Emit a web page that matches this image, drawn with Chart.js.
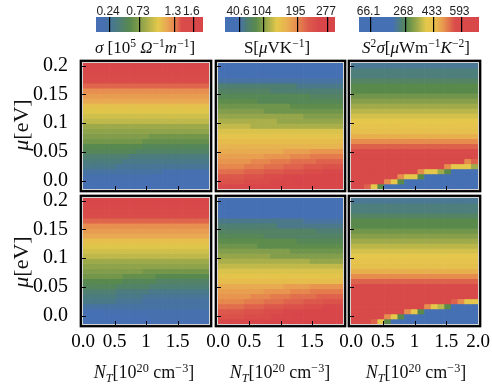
<!DOCTYPE html>
<html lang="en">
<head>
<meta charset="UTF-8">
<title>Conductivity, Seebeck and power factor maps</title>
<script src="https://cdn.jsdelivr.net/npm/chart.js"></script>
<style>
  body { margin: 0; background: #fff; font-family: 'Liberation Serif', serif; }
  #wrap { position: relative; width: 492px; height: 386px; overflow: hidden; }
  #wrap canvas { position: absolute; left: 0; top: 0; }
  .lbl { position: absolute; white-space: nowrap; color: #111; transform: translate(-50%, -50%); font-size: 17px; line-height: 1; }
  .lbl sup { font-size: 68%; vertical-align: 0.5em; line-height: 0; }
  .lbl sub { font-size: 68%; vertical-align: -0.3em; line-height: 0; }
  .ylab { transform: translate(-50%, -50%) rotate(-90deg); font-size: 22px; }
  .xlab { font-size: 18px; }
</style>
</head>
<body>

<div id="wrap">
  <canvas id="barSigma" width="492" height="386"></canvas>
  <canvas id="barS" width="492" height="386"></canvas>
  <canvas id="barPF" width="492" height="386"></canvas>
  <canvas id="pA" width="492" height="386"></canvas>
  <canvas id="pB" width="492" height="386"></canvas>
  <canvas id="pC" width="492" height="386"></canvas>
  <canvas id="pD" width="492" height="386"></canvas>
  <canvas id="pE" width="492" height="386"></canvas>
  <canvas id="pF" width="492" height="386"></canvas>

  <div class="lbl" style="left:145px;top:47px"><i>σ</i> [10<sup>5</sup> <i>Ω</i><sup>−1</sup><i>m</i><sup>−1</sup>]</div>
  <div class="lbl" style="left:277px;top:47px">S[<i>μ</i>VK<sup>−1</sup>]</div>
  <div class="lbl" style="left:416px;top:47px"><i>S</i><sup>2</sup><i>σ</i>[<i>μ</i>Wm<sup>−1</sup><i>K</i><sup>−2</sup>]</div>

  <div class="lbl ylab" style="left:21px;top:125px"><i>μ</i>[eV]</div>
  <div class="lbl ylab" style="left:21px;top:262px"><i>μ</i>[eV]</div>

  <div class="lbl xlab" style="left:144px;top:372px"><i>N<sub>T</sub></i>[10<sup>20</sup> cm<sup>−3</sup>]</div>
  <div class="lbl xlab" style="left:280px;top:372px"><i>N<sub>T</sub></i>[10<sup>20</sup> cm<sup>−3</sup>]</div>
  <div class="lbl xlab" style="left:416px;top:372px"><i>N<sub>T</sub></i>[10<sup>20</sup> cm<sup>−3</sup>]</div>
</div>

<script>
  // grid of the maps: trap density N_T (columns) and chemical potential mu (rows, top first)
  const ntCols = [0.0526, 0.1579, 0.2632, 0.3684, 0.4737, 0.5789, 0.6842, 0.7895, 0.8947, 1.0000,
                  1.1053, 1.2105, 1.3158, 1.4211, 1.5263, 1.6316, 1.7368, 1.8421, 1.9474];
  const muRows = [0.2, 0.19125, 0.1825, 0.17375, 0.165, 0.15625, 0.1475, 0.13875, 0.13, 0.12125,
                  0.1125, 0.10375, 0.095, 0.08625, 0.0775, 0.06875, 0.06, 0.05125, 0.0425, 0.03375,
                  0.025, 0.01625, 0.0075, -0.00125, -0.01];

  const xTickVals = [0, 0.5, 1, 1.5, 2];
  const xTickLabels = ['0.0', '0.5', '1', '1.5', '2.0'];
  const yTickVals = [0, 0.05, 0.1, 0.15, 0.2];
  const yTickLabels = ['0.0', '0.05', '0.1', '0.15', '0.2'];

  // colour bars: value range, tick values, tick labels
  const sigmaRange = [0.01, 1.76];
  const sigmaTicks = [0.24, 0.73, 1.3, 1.6];
  const sigmaTickLabels = ['0.24', '0.73', '1.3', '1.6'];
  const seebeckRange = [0, 296];
  const seebeckTicks = [40.6, 104, 195, 277];
  const seebeckTickLabels = ['40.6', '104', '195', '277'];
  const pfRange = [0, 694];
  const pfTicks = [66.1, 268, 433, 593];
  const pfTickLabels = ['66.1', '268', '433', '593'];

  const sigmaStops = [[0, '#4670b4'], [0.08, '#4670b0'], [0.18, '#4a7a86'], [0.32, '#598a4c'], [0.45, '#9aa84a'],
                      [0.58, '#e4c84b'], [0.66, '#e8a852'], [0.74, '#e6824f'], [0.8, '#d94c4a'], [1, '#d8464a']];
  const seebeckStops = [[0, '#4670b4'], [0.12, '#4670b4'], [0.2, '#4f7e72'], [0.28, '#598a4c'], [0.38, '#9aa84a'],
                        [0.47, '#e4c84b'], [0.56, '#e8b050'], [0.64, '#e8904f'], [0.76, '#dd5a4b'], [0.86, '#d8464a'], [1, '#d8464a']];
  const pfStops = [[0, '#4670b4'], [0.28, '#4670b4'], [0.34, '#4f7e7e'], [0.4, '#598a4c'], [0.48, '#9aa84a'],
                   [0.56, '#e4c84b'], [0.63, '#e6c04c'], [0.7, '#e8984f'], [0.8, '#d94c4a'], [1, '#d8464a']];

  // cell values as position on the colour bar, one base-36 digit per cell (0 = bottom of bar, z = top)
  const sigmaTop = [
    'xxxxxxxxxxxxxxxxxxx', 'vvvvvvvvvvvvvvvvvvv', 'uuuuuuuuuuuuuuuuuuu', 'sssssssssssssssssss', 'rrrrrrrrrrrrrrrrrrr',
    'ppppppppppppppppppp', 'ooooooooooooooooooo', 'nnnnnnnnnnnnnnnnnnn', 'lllllllllllllllllll', 'kkkkkkkkkkkkkkkkkkk',
    'jjjjjjjjjjjjjjjjjjj', 'iiiiiiiiiiiiiiiiiii', 'ggggggggggggggggggg', 'fffffffffffffffffff', 'eeeeeeeeeeddddddddd',
    'dddddddddcccccccccc', 'bbbbbbbbbaaaaaaaaaa', 'aaaaaaaa99999999999', '8888888777777777777', '7777776666666666666',
    '6666655555555555555', '4444444444443333333', '3333333333222222222', '2222222222222222222', '1111111111111111111'
  ];
  const sigmaBot = [
    'xxxxxxxxxxxxxxxxxxx', 'vvvvvvvvvvvvvvvvvvv', 'uuuuuuuuuuuuuuuuuuu', 'sssssssssssssssssss', 'rrrrrrrrrrrrrrrrrrr',
    'ppppppppppppppppppp', 'ooooooooooooooooooo', 'nnnnnnnnnnnnnnnnnnn', 'lllllllllllllllllll', 'kkkkkkkkkkkkkkkkkkk',
    'jjjjjjjjjjjjjjjjjjj', 'iiiiiiiiiiiiiiiiiii', 'ggggggggggggggggggg', 'fffffffffffffffffff', 'eeeeeeeeedddddddddd',
    'ddddddcccccbbbbbbbb', 'bbbbbbaaaaa99999999', 'aaaaa99999888888888', '8888877777666666666', '7777766665555555555',
    '6666655554444444444', '4444444444444444444', '2222333333333333333', '0001112222333333333', '0000000011111222222'
  ];
  const seebeckTop = [
    '2222222222222222222', '3333333333333333333', '4444444444444444444', '5555555555555555555', '7777777777776666666',
    '8888888877777777777', '9999999999999988888', 'aaaaaa9999999999999', 'bbbbbbbbbbbaaaaaaaa', 'cccccccbbbbbbbbbbbb',
    'dddddddddddddcccccc', 'eeeeeeeeedddddddddd', 'fffffeeeeeeeeeeeeee', 'ggggggggggggggggggg', 'hhhhhhhhhhhhhhhhhhh',
    'iiiiiiiiiiiiiiiiiii', 'jjjjjjjjjjjjjjjjjjj', 'kkkkkkkkkkllllmmmmm', 'lllllllmmmmnnnooooo', 'mmmmmnnnoooppppqqqq',
    'nnnnooopppqqqrrrsss', 'ppppqqqrrrssstttuuu', 'rrrrssstttuuuuvvvvv', 'ssssttttuuuvvvvwwww', 'uuuuuvvvvvvwwwwwwww'
  ];
  const seebeckBot = [
    '2222222222222222222', '3333333333333333333', '3333333333333333333', '4444444444444444444', '6666666666666555555',
    '7777777776666666666', '8888888888888887777', '9999999888888888888', 'aaaaaaaaaaaa9999999', 'bbbbbbaaaaaaaaaaaaa',
    'cccccccccccbbbbbbbb', 'ddddddddccccccccccc', 'eeeeeeeeeeeeeeddddd', 'fffffffffffffffffff', 'ggggggggggggggggggg',
    'hhhhhhhhhhhhhhhhhhh', 'iiiiiiiiiiiiiiiiiii', 'kkkkkkkkkkllllmmmmm', 'lllllllmmmmnnnooooo', 'mmmmmnnnoooppppqqqq',
    'nnnnooopppqqqrrrsss', 'ppppqqqrrrssstttuuu', 'rrrrssstttuuuuvvvvv', 'ssssttttuuuvvvvwwww', 'uuuuuvvvvvvwwwwwwww'
  ];
  const pfTop = [
    'bbbbbbbbbbbbbbbbbbb', 'ccccccccccccccccccc', 'ccccccccccccccccccc', 'ddddddddddddddddddd', 'eeeeeeeeeeeeeeeeeee',
    'eeeeeeeeeeeeeeeeeee', 'fffffffffffffffffff', 'ggggggggggggggggggg', 'hhhhhhhhhhhhhhhhhhh', 'iiiiiiiiiiiiiiiiiii',
    'jjjjjjjjjjjjjjjjjjj', 'kkkkkkkkkkkkkkkkkkk', 'lllllllllllllllllll', 'mmmmmmmmmmmmmmmmmmm', 'nnnnnnnnnnnnnnnnnnn',
    'ppppppppppppppppppp', 'rrrrrrrrrrrrrrrrrrr', 'uuuuuuuuuuuuuuuuuuu', 'wwwwwwwwwwwwwwwwwww', 'wwwwwwwwwwwwwwwwwpr',
    'wwwwwwwwwwwwwwpkkkh', 'wwwwwwwwwwpkkhe3333', 'wwwwwwwpkke33333333', 'wwwwwpke33333333333', 'wwrke33333333333333'
  ];
  const pfBot = [
    'bbbbbbbbbbbbbbbbbbb', 'ccccccccccccccccccc', 'ccccccccccccccccccc', 'ddddddddddddddddddd', 'eeeeeeeeeeeeeeeeeee',
    'eeeeeeeeeeeeeeeeeee', 'fffffffffffffffffff', 'ggggggggggggggggggg', 'hhhhhhhhhhhhhhhhhhh', 'iiiiiiiiiiiiiiiiiii',
    'jjjjjjjjjjjjjjjjjjj', 'kkkkkkkkkkkkkkkkkkk', 'lllllllllllllllllll', 'mmmmmmmmmmmmmmmmmmm', 'nnnnnnnnnnnnnnnnnnn',
    'ppppppppppppppppppp', 'rrrrrrrrrrrrrrrrrrr', 'uuuuuuuuuuuuuuuuuuu', 'wwwwwwwwwwwwwwwwwww', 'wwwwwwwwwwwwwwwwwww',
    'wwwwwwwwwwwwwwwrpkk', 'wwwwwwwwwwwpkie3333', 'wwwwwwwwpke33333333', 'wwwwwpke33333333333', 'wwwrke3333333333333'
  ];

  const serif = "'Liberation Serif', 'Times New Roman', serif";

  function hexRgb(h) {
    const n = parseInt(h.slice(1), 16);
    return [n >> 16, (n >> 8) & 255, n & 255];
  }

  function colorAt(stops, f) {
    for (let i = 1; i < stops.length; i++) {
      if (f <= stops[i][0]) {
        const [p0, c0] = stops[i - 1];
        const [p1, c1] = stops[i];
        const t = (f - p0) / (p1 - p0);
        const a = hexRgb(c0), b = hexRgb(c1);
        return 'rgb(' + a.map((v, k) => Math.round(v + (b[k] - v) * t)).join(',') + ')';
      }
    }
    return stops[stops.length - 1][1];
  }

  const levelOf = ch => parseInt(ch, 36) / 35;

  const framePlugin = {
    id: 'frame',
    afterDraw(chart) {
      const { ctx, chartArea: a, scales } = chart;
      ctx.save();
      ctx.strokeStyle = '#d4d4d4';
      ctx.lineWidth = 1;
      ctx.strokeRect(a.left - 0.5, a.top - 0.5, a.right - a.left + 1, a.bottom - a.top + 1);
      ctx.strokeStyle = '#000';
      ctx.lineWidth = 2.3;
      ctx.strokeRect(a.left - 2.2, a.top - 2.2, a.right - a.left + 4.4, a.bottom - a.top + 4.4);
      ctx.lineWidth = 1;
      yTickVals.forEach(v => {
        const y = Math.round(scales.y.getPixelForValue(v)) + 0.5;
        ctx.beginPath(); ctx.moveTo(a.left - 1, y); ctx.lineTo(a.left + 3, y); ctx.stroke();
      });
      xTickVals.slice(1, 4).forEach(v => {
        const x = Math.round(scales.x.getPixelForValue(v)) + 0.5;
        ctx.beginPath(); ctx.moveTo(x, a.bottom + 1); ctx.lineTo(x, a.bottom - 3); ctx.stroke();
      });
      ctx.restore();
    }
  };

  function heatPanel(id, grid, stops, box, showY, showX, nXLabels) {
    const [L, T, W, H] = box;
    const yAxisW = 50, xAxisH = 34;
    const muStep = muRows[0] - muRows[1];
    const datasets = muRows.map((mu, r) => ({
      data: ntCols.map(nt => ({ x: nt, y: [mu - muStep / 2, mu + muStep / 2] })),
      backgroundColor: ntCols.map((nt, c) => colorAt(stops, levelOf(grid[r][c]))),
      borderWidth: 0,
      grouped: false,
      barPercentage: 1,
      categoryPercentage: 1
    }));
    const xScale = {
      type: 'linear', min: 0, max: 2, offset: false, display: showX,
      grid: { display: false }, border: { display: false },
      afterBuildTicks: s => { s.ticks = xTickVals.slice(0, nXLabels).map(v => ({ value: v })); },
      ticks: {
        autoSkip: false, maxRotation: 0, padding: -1, color: '#000',
        font: { family: serif, size: 19 },
        callback: v => xTickLabels[xTickVals.indexOf(v)]
      }
    };
    if (showX) xScale.afterFit = s => { s.height = xAxisH; };
    const yScale = {
      type: 'linear', min: muRows[muRows.length - 1] - muStep / 2, max: muRows[0] + muStep / 2,
      display: showY, grid: { display: false }, border: { display: false },
      afterBuildTicks: s => { s.ticks = yTickVals.map(v => ({ value: v })); },
      ticks: {
        autoSkip: false, padding: 7, color: '#000',
        font: { family: serif, size: 20 },
        callback: v => yTickLabels[yTickVals.indexOf(v)]
      }
    };
    if (showY) yScale.afterFit = s => { s.width = yAxisW; };
    return new Chart(document.getElementById(id), {
      type: 'bar',
      data: { datasets },
      options: {
        responsive: false,
        animation: false,
        events: [],
        layout: {
          autoPadding: false,
          padding: {
            left: showY ? L - yAxisW : L,
            top: T,
            right: 492 - L - W,
            bottom: showX ? 386 - T - H - xAxisH : 386 - T - H
          }
        },
        plugins: { legend: { display: false }, tooltip: { enabled: false } },
        scales: { x: xScale, y: yScale }
      },
      plugins: [framePlugin]
    });
  }

  const gradientPlugin = {
    id: 'gradientFill',
    beforeDatasetsDraw(chart) {
      const { ctx, chartArea: a } = chart;
      const stops = chart.options.plugins.gradientFill.stops;
      const g = ctx.createLinearGradient(a.left, 0, a.right, 0);
      stops.forEach(([p, c]) => g.addColorStop(p, c));
      ctx.save();
      ctx.fillStyle = g;
      ctx.fillRect(a.left, a.top, a.right - a.left, a.bottom - a.top);
      ctx.restore();
    }
  };

  function colorBar(id, stops, range, ticks, tickLabels, box) {
    const [L, T, W, H] = box;
    const axisH = 17;
    return new Chart(document.getElementById(id), {
      type: 'scatter',
      data: { datasets: [] },
      options: {
        responsive: false,
        animation: false,
        events: [],
        layout: { autoPadding: false, padding: { left: L, top: T - axisH, right: 492 - L - W, bottom: 386 - T - H } },
        plugins: { legend: { display: false }, tooltip: { enabled: false }, gradientFill: { stops } },
        scales: {
          x: {
            type: 'linear', position: 'top', min: range[0], max: range[1],
            border: { display: false },
            grid: { color: '#000', lineWidth: 1.2, drawTicks: false, z: 1 },
            afterBuildTicks: s => { s.ticks = ticks.map(v => ({ value: v })); },
            afterFit: s => { s.height = axisH; },
            ticks: {
              autoSkip: false, maxRotation: 0, padding: -1, labelOffset: -2, color: '#222',
              font: { family: "'Liberation Sans', Arial, sans-serif", size: 12, lineHeight: 1 },
              callback: v => tickLabels[ticks.indexOf(v)]
            }
          },
          y: { display: false, min: 0, max: 1 }
        }
      },
      plugins: [gradientPlugin]
    });
  }

  function drawAll() {
    colorBar('barSigma', sigmaStops, sigmaRange, sigmaTicks, sigmaTickLabels, [96, 17, 107, 15]);
    colorBar('barS', seebeckStops, seebeckRange, seebeckTicks, seebeckTickLabels, [225, 17, 110, 15]);
    colorBar('barPF', pfStops, pfRange, pfTicks, pfTickLabels, [359, 17, 120, 15]);

    heatPanel('pA', sigmaTop, sigmaStops, [83, 63, 126, 126], true, false, 4);
    heatPanel('pB', seebeckTop, seebeckStops, [218, 63, 125, 126], false, false, 4);
    heatPanel('pC', pfTop, pfStops, [351, 63, 127, 126], false, false, 5);
    heatPanel('pD', sigmaBot, sigmaStops, [83, 198, 126, 126], true, true, 4);
    heatPanel('pE', seebeckBot, seebeckStops, [218, 198, 125, 126], false, true, 4);
    heatPanel('pF', pfBot, pfStops, [351, 198, 127, 126], false, true, 5);
  }

  if (document.fonts && document.fonts.load) {
    Promise.all([
      document.fonts.load("20px 'Liberation Serif'"),
      document.fonts.load("12px 'Liberation Sans'")
    ]).then(drawAll, drawAll);
  } else {
    drawAll();
  }
</script>

</body>
</html>
